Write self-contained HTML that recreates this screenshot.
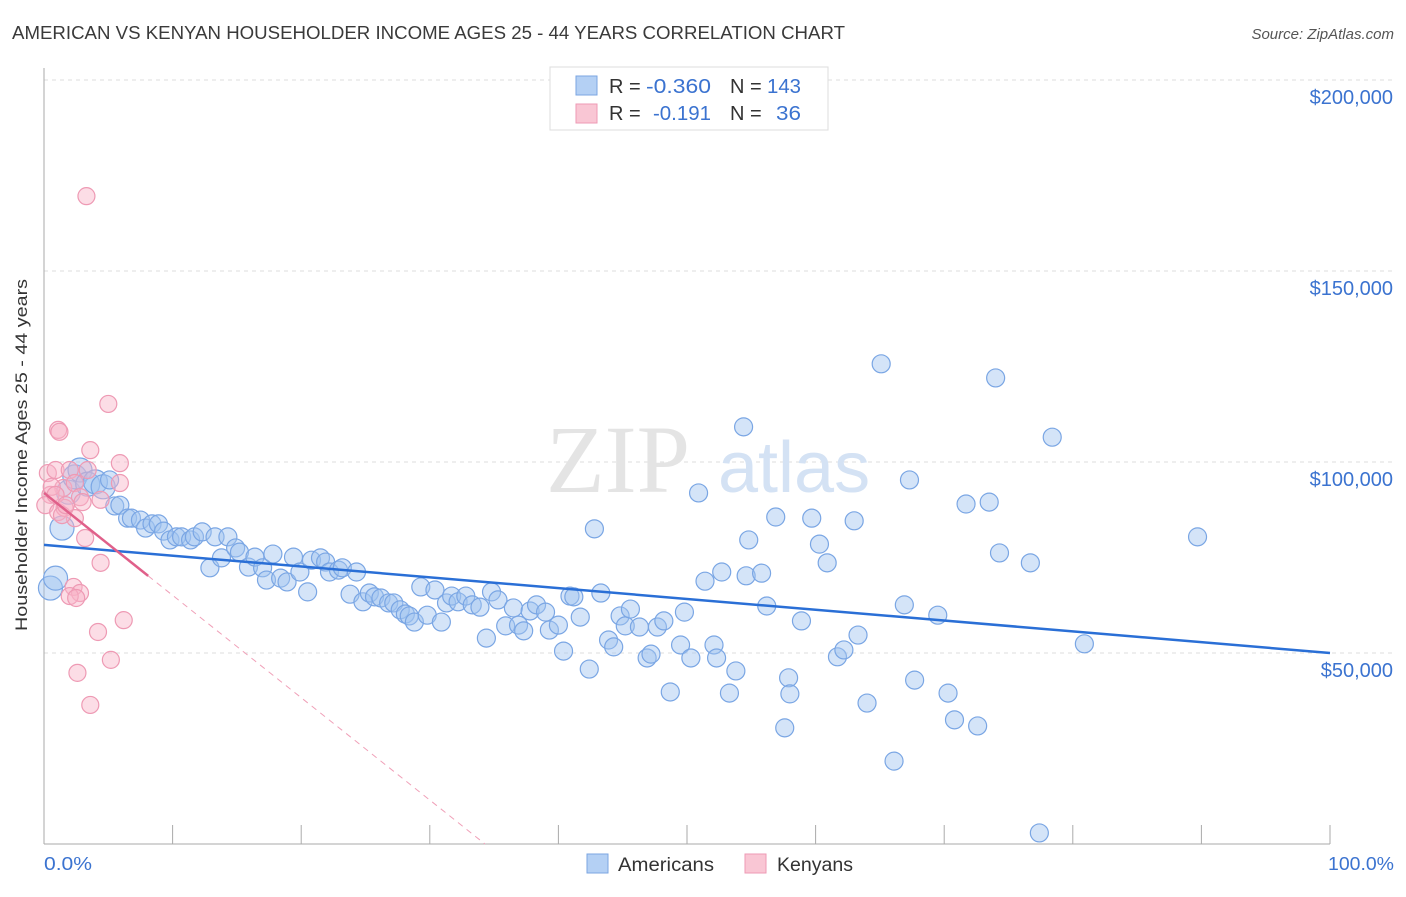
<!DOCTYPE html>
<html><head><meta charset="utf-8"><style>
body{margin:0;background:#fff;font-family:"Liberation Sans",sans-serif}
</style></head><body>
<svg width="1406" height="892" xmlns="http://www.w3.org/2000/svg" style="font-family:'Liberation Sans',sans-serif">
<text x="12" y="39" font-size="18" fill="#3a3a3a" textLength="833" lengthAdjust="spacingAndGlyphs">AMERICAN VS KENYAN HOUSEHOLDER INCOME AGES 25 - 44 YEARS CORRELATION CHART</text>
<text x="1394" y="39" font-size="15" fill="#555" font-style="italic" text-anchor="end">Source: ZipAtlas.com</text>
<g id="grid"></g>
<text x="690" y="492" font-size="96" fill="#e4e4e4" text-anchor="end" font-family="Liberation Serif,serif">ZIP</text>
<text x="718" y="492" font-size="72" fill="#d4e2f4">atlas</text>
<g id="axes"></g>
<g id="pts"></g>
<g id="trend"></g>
<text x="27" y="455" font-size="17" fill="#333" text-anchor="middle" transform="rotate(-90 27 455)" textLength="352" lengthAdjust="spacingAndGlyphs">Householder Income Ages 25 - 44 years</text>
<text x="44" y="870" font-size="18" fill="#3b73d0" textLength="48" lengthAdjust="spacingAndGlyphs">0.0%</text>
<text x="1394" y="870" font-size="18" fill="#3b73d0" text-anchor="end" textLength="66" lengthAdjust="spacingAndGlyphs">100.0%</text>
<g>
<rect x="550" y="67" width="278" height="63" fill="#fff" stroke="#ddd"/>
<rect x="576" y="76" width="21" height="19" fill="#b4d0f4" stroke="#7ba6e2"/>
<rect x="576" y="104" width="21" height="19" fill="#f9c6d4" stroke="#ee9ab4"/>
<text x="609" y="93" font-size="20" fill="#333">R = </text>
<text x="646" y="93" font-size="20" fill="#3b73d0" textLength="65" lengthAdjust="spacingAndGlyphs">-0.360</text>
<text x="730" y="93" font-size="20" fill="#333">N = </text>
<text x="767" y="93" font-size="20" fill="#3b73d0" textLength="34" lengthAdjust="spacingAndGlyphs">143</text>
<text x="609" y="120" font-size="20" fill="#333">R = </text>
<text x="653" y="120" font-size="20" fill="#3b73d0" textLength="58" lengthAdjust="spacingAndGlyphs">-0.191</text>
<text x="730" y="120" font-size="20" fill="#333">N = </text>
<text x="776" y="120" font-size="20" fill="#3b73d0" textLength="25" lengthAdjust="spacingAndGlyphs">36</text>
</g>
<g>
<rect x="587" y="854" width="21" height="19" fill="#b4d0f4" stroke="#7ba6e2"/>
<text x="618" y="871" font-size="19" fill="#333" textLength="96" lengthAdjust="spacingAndGlyphs">Americans</text>
<rect x="745" y="854" width="21" height="19" fill="#f9c6d4" stroke="#ee9ab4"/>
<text x="777" y="871" font-size="19" fill="#333" textLength="76" lengthAdjust="spacingAndGlyphs">Kenyans</text>
</g>
</svg>
<script>
const yTicks=[50000,100000,150000,200000];
const yTickLabels=["$50,000","$100,000","$150,000","$200,000"];
const xTicks=[0,10,20,30,40,50,60,70,80,90,100];
const amerX=[0.5,0.9,1.4,1.9,2.4,2.8,3.4,4.0,4.6,5.1,5.5,5.9,6.5,6.8,7.5,7.9,8.4,8.9,9.3,9.8,10.3,10.7,11.4,11.7,12.3,12.9,13.3,13.8,14.3,14.9,15.2,15.9,16.4,17.0,17.3,17.8,18.4,18.9,19.4,19.9,20.5,20.8,21.5,21.9,22.2,22.9,23.2,23.8,24.3,24.8,25.3,25.7,26.2,26.8,27.2,27.7,28.1,28.4,28.8,29.3,29.8,30.4,30.9,31.3,31.7,32.2,32.8,33.3,33.9,34.4,34.8,35.3,35.9,36.5,36.9,37.3,37.8,38.3,39.0,39.3,40.0,40.4,40.9,41.2,41.7,42.4,42.8,43.3,43.9,44.3,44.8,45.2,45.6,46.3,46.9,47.2,47.7,48.2,48.7,49.5,49.8,50.3,50.9,51.4,52.1,52.3,52.7,53.3,53.8,54.4,54.6,54.8,55.8,56.2,56.9,57.6,57.9,58.0,58.9,59.7,60.3,60.9,61.7,62.2,63.0,63.3,64.0,65.1,66.1,66.9,67.3,67.7,69.5,70.3,70.8,71.7,72.6,73.5,74.0,74.3,76.7,77.4,78.4,80.9,89.7];
const amerY=[67.0,69.6,82.7,92.1,96.1,97.9,94.2,94.8,93.5,95.3,88.5,88.7,85.3,85.3,84.8,82.7,83.8,83.8,81.9,79.6,80.4,80.4,79.6,80.4,81.7,72.3,80.4,74.9,80.4,77.5,76.4,72.5,75.1,72.3,69.1,75.9,69.6,68.6,75.1,71.2,66.0,74.3,74.9,73.8,71.2,71.7,72.3,65.4,71.2,63.4,65.7,64.7,64.4,63.1,63.1,61.3,60.2,59.7,58.1,67.3,59.9,66.5,58.1,63.1,64.9,63.4,64.9,62.6,62.0,53.9,66.0,63.9,57.1,61.8,57.3,55.8,61.0,62.6,60.7,56.0,57.3,50.5,64.9,64.7,59.4,45.8,82.5,65.7,53.4,51.6,59.7,57.1,61.5,56.8,48.7,49.7,56.8,58.4,39.8,52.1,60.7,48.7,91.9,68.8,52.1,48.7,71.2,39.5,45.3,109.2,70.2,79.6,70.9,62.3,85.6,30.4,43.5,39.3,58.4,85.3,78.5,73.6,49.0,50.8,84.6,54.7,36.9,125.7,21.7,62.6,95.3,42.9,59.9,39.5,32.5,89.0,30.9,89.5,122.0,76.2,73.6,2.9,106.5,52.4,80.4];
const kenX=[3.3,5.0,1.1,1.2,0.3,0.9,1.5,2.0,2.4,2.8,0.5,0.1,1.1,1.6,2.4,3.0,3.4,3.6,4.4,5.9,5.9,0.6,1.4,3.2,4.4,2.3,2.8,2.0,2.5,4.2,6.2,5.2,2.6,3.6,0.9,1.7];
const kenY=[169.6,115.2,108.4,107.9,97.1,97.9,93.2,97.9,94.5,90.8,91.4,88.7,86.9,88.0,85.3,89.5,97.9,103.1,90.1,94.5,99.7,93.5,86.1,80.1,73.6,67.3,65.7,64.9,64.4,55.5,58.6,48.2,44.8,36.4,91.4,88.7];
const amerTrend=[78.3,50.0]; // value at 0% and 100%
const kenTrend=[91.9,-2.68]; // intercept, slope per %
const kenSolidEnd=8.1;
const NS="http://www.w3.org/2000/svg";
const X=p=>44+p*12.86;
const Y=k=>844-k*3.82;
function mk(t,a,parent){const e=document.createElementNS(NS,t);for(const k in a)e.setAttribute(k,a[k]);parent.appendChild(e);return e;}
const grid=document.getElementById('grid'),axes=document.getElementById('axes'),pts=document.getElementById('pts'),tr=document.getElementById('trend');
yTicks.forEach((v,i)=>{
 const l=mk('line',{x1:44,x2:1396,y1:Y(v/1000),y2:Y(v/1000),stroke:'#dedede','stroke-dasharray':'4,4'},grid);
 
 
 const t=mk('text',{x:1393,y:Y(v/1000)+24,'font-size':20,fill:'#3b73d0','text-anchor':'end'},grid);
 t.textContent=yTickLabels[i];
 
 
});
const ax=mk('line',{x1:44,x2:44,y1:68,y2:844,stroke:'#aaa'},axes);


const bx=mk('line',{x1:44,x2:1330,y1:844,y2:844,stroke:'#aaa'},axes);


xTicks.forEach(p=>{
 const t=mk('line',{x1:X(p),x2:X(p),y1:825,y2:844,stroke:'#aaa'},axes);
 
 
});
amerX.forEach((x,i)=>{
 const r=(x<5)?12:9;
 const c=mk('circle',{cx:X(x),cy:Y(amerY[i]),r:r,fill:'rgba(160,196,240,0.45)',stroke:'#7aa6e4','stroke-width':1.2},pts);
 
 
});
kenX.forEach((x,i)=>{
 const c=mk('circle',{cx:X(x),cy:Y(kenY[i]),r:8.5,fill:'rgba(248,180,200,0.45)',stroke:'#ee9ab4','stroke-width':1.2},pts);
 
 
});
const bl=mk('line',{x1:X(0),y1:Y(amerTrend[0]),x2:X(100),y2:Y(amerTrend[1]),stroke:'#2a6fd6','stroke-width':2.5},tr);


const kz=-kenTrend[0]/kenTrend[1];
const pd=mk('line',{x1:X(kenSolidEnd),y1:Y(kenTrend[0]+kenTrend[1]*kenSolidEnd),x2:X(kz),y2:Y(0),stroke:'#f0a0b8','stroke-width':1,'stroke-dasharray':'6,5'},tr);


const ps=mk('line',{x1:X(0),y1:Y(kenTrend[0]),x2:X(kenSolidEnd),y2:Y(kenTrend[0]+kenTrend[1]*kenSolidEnd),stroke:'#e0608a','stroke-width':2.5},tr);


</script>
</body></html>
